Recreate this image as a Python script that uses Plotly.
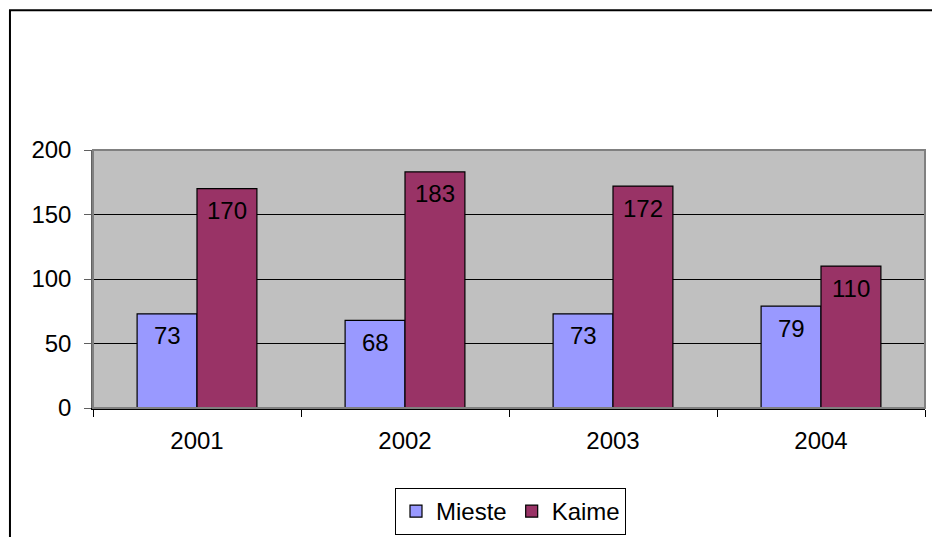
import plotly.graph_objects as go

years = ["2001", "2002", "2003", "2004"]
mieste = [73, 68, 73, 79]
kaime = [170, 183, 172, 110]
y_ticks = [0, 50, 100, 150, 200]

FONT = "Liberation Sans, Arial, sans-serif"
FS = 24
BW = 0.288  # bar width in category units

pos = list(range(len(years)))

fig = go.Figure()
fig.add_trace(go.Bar(x=pos, y=mieste, name="Mieste", width=BW, offset=-BW,
                     marker=dict(color="#9999FF", line=dict(color="black", width=1.2))))
fig.add_trace(go.Bar(x=pos, y=kaime, name="Kaime", width=BW, offset=0,
                     marker=dict(color="#993366", line=dict(color="black", width=1.2))))

annotations = []
for i in pos:
    for vals, xc in ((mieste, i - BW / 2), (kaime, i + BW / 2)):
        annotations.append(dict(x=xc, y=vals[i], text=str(vals[i]), showarrow=False,
                                xref="x", yref="y", yshift=-22,
                                yanchor="middle", xanchor="center",
                                font=dict(family=FONT, size=FS, color="black")))

fig.update_layout(
    width=932, height=537,
    margin=dict(l=93, r=7, t=150, b=129),
    paper_bgcolor="white", plot_bgcolor="#C0C0C0",
    font=dict(family=FONT, size=FS, color="black"),
    barmode="overlay",
    showlegend=True,
    legend=dict(orientation="h", x=0.5018, xanchor="center",
                yref="container", y=0.0037, yanchor="bottom",
                bordercolor="black", borderwidth=1, bgcolor="white",
                font=dict(family=FONT, size=FS), itemwidth=30, tracegroupgap=0),
    annotations=annotations,
    shapes=[
        dict(type="rect", xref="paper", yref="paper", x0=-0.0998, x1=1.2, y0=-0.7, y1=1.542,
             line=dict(color="black", width=2), fillcolor="rgba(0,0,0,0)", layer="below"),
        dict(type="rect", xref="paper", yref="paper", x0=0, x1=1, y0=0, y1=1,
             line=dict(color="#808080", width=2), fillcolor="rgba(0,0,0,0)", layer="above"),
    ],
)
fig.update_xaxes(range=[-0.5, 3.5], tickvals=pos, ticktext=years, showgrid=False,
                 showline=True, linecolor="black", linewidth=2, zeroline=False,
                 ticks="", tickfont=dict(family=FONT, size=FS), ticklabelstandoff=10,
                 minor=dict(tickvals=[-0.5, 0.5, 1.5, 2.5, 3.5], ticks="outside", ticklen=7,
                            tickcolor="black", showgrid=False))
fig.update_yaxes(range=[0, 200], tickvals=y_ticks, showgrid=True, gridcolor="black", gridwidth=1,
                 showline=True, linecolor="#606060", linewidth=1.5, zeroline=False,
                 ticks="outside", ticklen=7, tickcolor="#606060",
                 tickfont=dict(family=FONT, size=FS), ticklabelstandoff=8)

fig.write_html("out.html", config={"displayModeBar": False},
               post_script="document.body.style.margin='0';document.body.style.overflow='hidden';")
